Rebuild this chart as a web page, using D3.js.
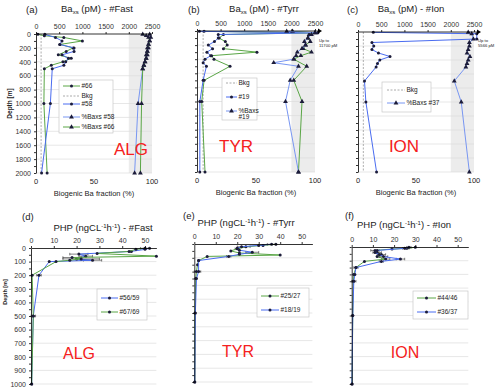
<!DOCTYPE html>
<html>
<head>
<meta charset="utf-8">
<style>
body{margin:0;background:#fff;}
svg text{font-family:"Liberation Sans",Arial,sans-serif;fill:#222;}
.axis path,.axis line{stroke:#000;stroke-width:0.8;}
.axis text{font-size:7px;fill:#333;}
.grid{stroke:#dcdcdc;stroke-width:0.7;}
</style>
</head>
<body>
<script src="https://cdn.jsdelivr.net/npm/d3@7"></script>
<script>
var W=500, H=391;
var GREEN="#5aa646", BLUE="#4a6cf0", LBLUE="#7896f2", DOT="#1c1c3a", RED="#f52020";

// ---- top row: Ba_xs (pM) + biogenic fraction (%), depth 0-2000 m
var baTicks=[0,500,1000,1500,2000,2500];
var pctTicks=[0,50,100];
var depthTicks=d3.range(0,2001,200);

// (a) #Fast
var aDepth66=[5,25,50,100,150,200,250,300,350,400,450,500,1000,2000];
var aBa66=[40,180,600,1000,520,800,650,480,760,580,330,180,170,240];
var aPct66=[92,95,97,98,97,96,96,95,95,94,93,92,91,90];
var aDepth58=[5,50,100,150,200,250,300,350,400,450,500,1000,2000];
var aBa58=[190,420,560,510,820,820,560,700,640,600,350,310,120];
var aPct58=[98,99,98,97,97,96,96,95,94,93,92,88,85];
var aBkg=110;

// (b) #Tyrr
var bDepthG=[5,25,50,100,150,200,250,300,350,400,500,700,1000,2000];
var bBaG=[150,11700,560,470,600,640,560,1270,310,360,700,150,100,170];
var bPctG=[81,99.9,95,94,96,92,90,97,88,82,93,82,89,86];
var bDepth19=[5,25,50,100,150,200,250,300,350,400,450,500,700,1000,2000];
var bBa19=[50,11700,450,450,370,240,330,210,290,170,130,200,130,60,60];
var bPct19=[76,99.9,97,94,91,92,89,85,84,82,65,86,79,75,86];
var bBkg=130;

// (c) #Ion
var cDepth37=[5,25,100,150,200,250,300,350,400,450,500,700,1000,2000];
var cBa37=[330,5566,2600,300,340,300,440,690,470,420,390,140,170,400];
var cPct37=[95,98,99.5,96,96,95,94,96.5,95,94,93,83,89,96];
var cBkg=115;

// ---- bottom row: PHP (ngC L-1 h-1), depth 0-1000 m
var phpTicks=[0,10,20,30,40,50];
var phpDepthTicks=d3.range(0,1001,100);

// (d) #Fast
var dDepth56=[2,10,25,45,60,80,90,100,200,500,1000];
var dPhp56=[52,50,44,21,24,20,27,8,3.5,1,0.3];
var dErr56=[0,0,0,4,3,0,4,0,1,0,0];
var dDepth67=[2,10,25,40,60,70,80,90,100,200,500,1000];
var dPhp67=[50,46,43,29,55,18,22,17,11,0.5,1,0.3];
var dErr67=[2,0,0,0,0,4,8,0,0,0,1,0];

// (e) #Tyrr
var eDepth25=[2,10,20,35,50,65,80,90,120,150,200,250,500,1000];
var ePhp25=[38,32,24,20,17,21,40,6,2,1.5,1,0.7,0.3,0.2];
var eErr25=[0,0,2,1,0,0,0,0,0,0,2,0,0,0];
var eDepth18=[2,10,20,30,45,60,75,90,120,200,250,500,1000];
var ePhp18=[36,30,22,20,21,27,21,16,2,2,1,0.5,0.2];
var eErr18=[2,0,2,0,0,3,0,1,0,0,0,0,0];

// (f) #Ion
var fDepth44=[2,10,15,25,40,55,70,88,105,150,200,250,500,1000];
var fPhp44=[30,26,19,11,12,14,12,16,6,2,1,0.8,0.5,0.2];
var fErr44=[0,1,0,2,2,2,0,2,0,0,0,0,0,0];
var fDepth36=[2,10,25,40,55,70,88,105,150,200,250,500,1000];
var fPhp36=[27,25,12,11,13,15,23,14,2,1.5,1,0.5,0.1];
var fErr36=[1,1,0,0,0,2,2,1,1,0,1,0,0];

var svg=d3.select("body").append("svg").attr("width",W).attr("height",H);

function zip(depths,vals,errs){
  return depths.map(function(d,i){return {d:d,v:vals[i],e:errs?errs[i]:0};});
}

function marker(g,type,x,y,col){
  if(type=="tri"){
    g.append("path").attr("d",d3.symbol().type(d3.symbolTriangle).size(10)())
      .attr("transform","translate("+x+","+y+")").attr("fill",DOT);
  }else{
    g.append("circle").attr("cx",x).attr("cy",y).attr("r",1.5).attr("fill",DOT);
  }
}

function drawSeries(g,data,xs,ys,col,type,xmax){
  var line=d3.line().x(function(d){return Math.min(xs(d.v),xmax);}).y(function(d){return ys(d.d);});
  data.forEach(function(d){
    if(d.e>0){
      var a=xs(Math.max(0,d.v-d.e)), b=Math.min(xs(d.v+d.e),xmax), yy=ys(d.d);
      g.append("line").attr("x1",a).attr("x2",b).attr("y1",yy).attr("y2",yy).attr("stroke","#333").attr("stroke-width",0.6);
      [a,b].forEach(function(x){g.append("line").attr("x1",x).attr("x2",x).attr("y1",yy-1.3).attr("y2",yy+1.3).attr("stroke","#333").attr("stroke-width",0.6);});
    }
  });
  g.append("path").datum(data).attr("d",line).attr("fill","none").attr("stroke",col).attr("stroke-width",1);
  data.forEach(function(d){marker(g,type,Math.min(xs(d.v),xmax),ys(d.d),col);});
}

function legend(g,L){
  g.append("rect").attr("x",L.x).attr("y",L.y).attr("width",L.w).attr("height",L.h)
    .attr("fill","#fff").attr("stroke","#c8c8c8").attr("stroke-width",0.7);
  L.items.forEach(function(it){
    g.append("line").attr("x1",L.sx).attr("x2",L.sx+L.sw).attr("y1",it.y).attr("y2",it.y)
      .attr("stroke",it.c).attr("stroke-width",1).attr("stroke-dasharray",it.dash?"2,1.5":null);
    if(it.m) marker(g,it.m,L.sx+L.sw/2,it.y,it.c);
    var t=g.append("text").attr("x",L.sx+L.sw+1.5).attr("y",it.y+2.2).attr("font-size",6.5);
    it.t.split("\n").forEach(function(s,i){t.append("tspan").attr("x",L.sx+L.sw+1.5).attr("dy",i?6:0).text(s);});
  });
}

function panelLabel(t,x,y){ svg.append("text").attr("x",x).attr("y",y).attr("font-size",9.5).text(t); }
function region(t,x,y,fs){
  svg.append("text").attr("x",x).attr("y",y).attr("text-anchor","middle").attr("font-size",fs)
    .style("fill",RED).text(t);
}

function baPanel(o){
  var g=svg.append("g");
  var xBa=d3.scaleLinear().domain([0,2500]).range([o.x0,o.x1]);
  var xPct=d3.scaleLinear().domain([0,100]).range([o.x0,o.x1]);
  var y=d3.scaleLinear().domain([0,2000]).range([o.y0,o.y1]);
  g.append("rect").attr("x",xPct(80)).attr("y",o.y0).attr("width",xPct(100)-xPct(80)).attr("height",o.y1-o.y0).attr("fill","#ececec");
  depthTicks.forEach(function(t){ if(t>0) g.append("line").attr("class","grid").attr("x1",o.x0).attr("x2",o.x1).attr("y1",y(t)).attr("y2",y(t)); });
  // background Ba
  g.append("line").attr("x1",xBa(o.bkg)).attr("x2",xBa(o.bkg)).attr("y1",o.y0).attr("y2",o.y1)
    .attr("stroke","#999").attr("stroke-width",0.8).attr("stroke-dasharray","2,1.5");
  var xmax=xBa(2560);
  o.series.forEach(function(s){ drawSeries(g,s.data,s.pct?xPct:xBa,y,s.c,s.m,xmax); });
  // axes
  var top=g.append("g").attr("class","axis").attr("transform","translate(0,"+o.y0+")")
    .call(d3.axisTop(xBa).tickValues(baTicks).tickSize(2).tickSizeOuter(0).tickFormat(d3.format("d")));
  top.select(".domain").attr("d","M"+o.x0+",0H"+(o.arrow?o.x1+4:o.x1));
  if(o.arrow){
    g.append("path").attr("d","M"+(o.x1+3)+","+(o.y0-2.5)+"L"+(o.x1+7)+","+o.y0+"L"+(o.x1+3)+","+(o.y0+2.5)+"Z").attr("fill","#000");
  }
  g.append("g").attr("class","axis").attr("transform","translate("+o.x0+",0)")
    .call(d3.axisLeft(y).tickValues(d3.range(0,2001,100)).tickSize(2).tickSizeOuter(0)
      .tickFormat(function(d){return (o.depthLabels && d%200==0)?d:"";}));
  g.selectAll(".tick text").filter(function(){return this.textContent==="";}).remove();
  pctTicks.forEach(function(t){
    g.append("text").attr("x",xPct(t)).attr("y",o.y1+11).attr("text-anchor","middle").attr("font-size",7.5).text(t);
  });
  g.append("text").attr("x",(o.x0+o.x1)/2).attr("y",o.y1+23).attr("text-anchor","middle").attr("font-size",7.5).text("Biogenic Ba fraction (%)");
  var tt=g.append("text").attr("x",o.tx).attr("y",12).attr("text-anchor","middle").attr("font-size",9.5);
  tt.append("tspan").text("Ba");
  tt.append("tspan").attr("font-size",6).attr("dy",2).text("xs");
  tt.append("tspan").attr("dy",-2).text(" (pM) - "+o.title);
  if(o.note){
    var n=g.append("text").attr("font-size",4.2);
    o.note.forEach(function(s,i){n.append("tspan").attr("x",o.x1+4).attr("y",42+i*4.6).text(s);});
  }
  if(o.depthLabels){
    g.append("text").attr("transform","translate(12,"+((o.y0+o.y1)/2)+") rotate(-90)").attr("text-anchor","middle")
      .attr("font-size",6.5).attr("font-weight","bold").text("Depth [m]");
  }
  legend(g,o.legend);
}

function phpPanel(o){
  var g=svg.append("g");
  var x=d3.scaleLinear().domain([0,55]).range([o.x0,o.x1]);
  var y=d3.scaleLinear().domain([0,1000]).range([o.y0,o.y1]);
  phpDepthTicks.forEach(function(t){ if(t>0) g.append("line").attr("class","grid").attr("x1",o.x0).attr("x2",o.x1).attr("y1",y(t)).attr("y2",y(t)); });
  o.series.forEach(function(s){ drawSeries(g,s.data,x,y,s.c,"dot",x(58)); });
  g.append("g").attr("class","axis").attr("transform","translate(0,"+o.y0+")")
    .call(d3.axisTop(x).tickValues(phpTicks).tickSize(2).tickSizeOuter(0));
  g.append("g").attr("class","axis").attr("transform","translate("+o.x0+",0)")
    .call(d3.axisLeft(y).tickValues(d3.range(0,1001,50)).tickSize(2).tickSizeOuter(0)
      .tickFormat(function(d){return (o.depthLabels && d%100==0)?d:"";}));
  g.selectAll(".tick text").filter(function(){return this.textContent==="";}).remove();
  if(o.depthLabels){
    g.selectAll(".tick text").attr("font-size",6);
    g.append("text").attr("transform","translate(7,292) rotate(-90)").attr("text-anchor","middle")
      .attr("font-size",5.5).attr("font-weight","bold").text("Depth [m]");
  }
  var tt=g.append("text").attr("x",o.tx).attr("y",o.ty).attr("text-anchor","middle").attr("font-size",9.5);
  tt.append("tspan").text("PHP  (ngCL");
  tt.append("tspan").attr("font-size",6).attr("dy",-3).text("-1");
  tt.append("tspan").attr("dy",3).text("h");
  tt.append("tspan").attr("font-size",6).attr("dy",-3).text("-1");
  tt.append("tspan").attr("dy",3).text(") - "+o.title);
  legend(g,o.legend);
}

baPanel({x0:36,x1:152,y0:34,y1:173,tx:97,title:"#Fast",bkg:aBkg,depthLabels:true,
  series:[
    {data:zip(aDepth66,aBa66),c:GREEN,m:"dot"},
    {data:zip(aDepth58,aBa58),c:BLUE,m:"dot"},
    {data:zip(aDepth58,aPct58),c:LBLUE,m:"tri",pct:true},
    {data:zip(aDepth66,aPct66),c:GREEN,m:"tri",pct:true}],
  legend:{x:59,y:80,w:54,h:53,sx:63,sw:17,items:[
    {t:"#66",c:GREEN,m:"dot",y:86},{t:"Bkg",c:"#aaa",dash:true,y:96},{t:"#58",c:BLUE,m:"dot",y:104},
    {t:"%Baxs #58",c:LBLUE,m:"tri",y:117},{t:"%Baxs #66",c:GREEN,m:"tri",y:127}]}});

baPanel({x0:197,x1:315,y0:31,y1:172,tx:264,title:"#Tyrr",bkg:bBkg,arrow:true,note:["Up to","11700 pM"],
  series:[
    {data:zip(bDepthG,bBaG),c:GREEN,m:"dot"},
    {data:zip(bDepth19,bBa19),c:BLUE,m:"dot"},
    {data:zip(bDepthG,bPctG),c:GREEN,m:"tri",pct:true},
    {data:zip(bDepth19,bPct19),c:LBLUE,m:"tri",pct:true}],
  legend:{x:222,y:78,w:35,h:42,sx:226,sw:11,items:[
    {t:"Bkg",c:"#aaa",dash:true,y:83},{t:"#19",c:BLUE,m:"dot",y:97},{t:"%Baxs\n#19",c:LBLUE,m:"tri",y:111}]}});

baPanel({x0:358,x1:474,y0:32,y1:172,tx:411,title:"#Ion",bkg:cBkg,arrow:true,note:["Up to","5566 pM"],
  series:[
    {data:zip(cDepth37,cBa37),c:BLUE,m:"dot"},
    {data:zip(cDepth37,cPct37),c:LBLUE,m:"tri",pct:true}],
  legend:{x:382,y:82,w:49,h:30,sx:387,sw:18,items:[
    {t:"Bkg",c:"#aaa",dash:true,y:90},{t:"%Baxs #37",c:LBLUE,m:"tri",y:103}]}});

phpPanel({x0:31,x1:156.4,y0:248,y1:384,tx:103,ty:231,title:"#Fast",depthLabels:true,
  series:[{data:zip(dDepth56,dPhp56,dErr56),c:BLUE},{data:zip(dDepth67,dPhp67,dErr67),c:GREEN}],
  legend:{x:97,y:289,w:50,h:31,sx:101,sw:17,items:[{t:"#56/59",c:BLUE,m:"dot",y:298},{t:"#67/69",c:GREEN,m:"dot",y:312}]}});

phpPanel({x0:194.3,x1:312.4,y0:244,y1:382,tx:246,ty:226,title:"#Tyrr",
  series:[{data:zip(eDepth25,ePhp25,eErr25),c:GREEN},{data:zip(eDepth18,ePhp18,eErr18),c:BLUE}],
  legend:{x:257,y:288,w:52,h:29,sx:261,sw:18,items:[{t:"#25/27",c:GREEN,m:"dot",y:296},{t:"#18/19",c:BLUE,m:"dot",y:310}]}});

phpPanel({x0:351.7,x1:468.3,y0:247,y1:384,tx:404,ty:228,title:"#Ion",
  series:[{data:zip(fDepth44,fPhp44,fErr44),c:GREEN},{data:zip(fDepth36,fPhp36,fErr36),c:BLUE}],
  legend:{x:413,y:291,w:55,h:28,sx:417,sw:19,items:[{t:"#44/46",c:GREEN,m:"dot",y:298},{t:"#36/37",c:BLUE,m:"dot",y:312}]}});

panelLabel("(a)",26,13); panelLabel("(b)",188,13); panelLabel("(c)",347,13);
panelLabel("(d)",22,220); panelLabel("(e)",183,219); panelLabel("(f)",345,219);

region("ALG",131,155,17); region("TYR",236,152,17); region("ION",404,152,17);
region("ALG",79,359,16); region("TYR",238,357,16); region("ION",405,358,16);
</script>
</body>
</html>
